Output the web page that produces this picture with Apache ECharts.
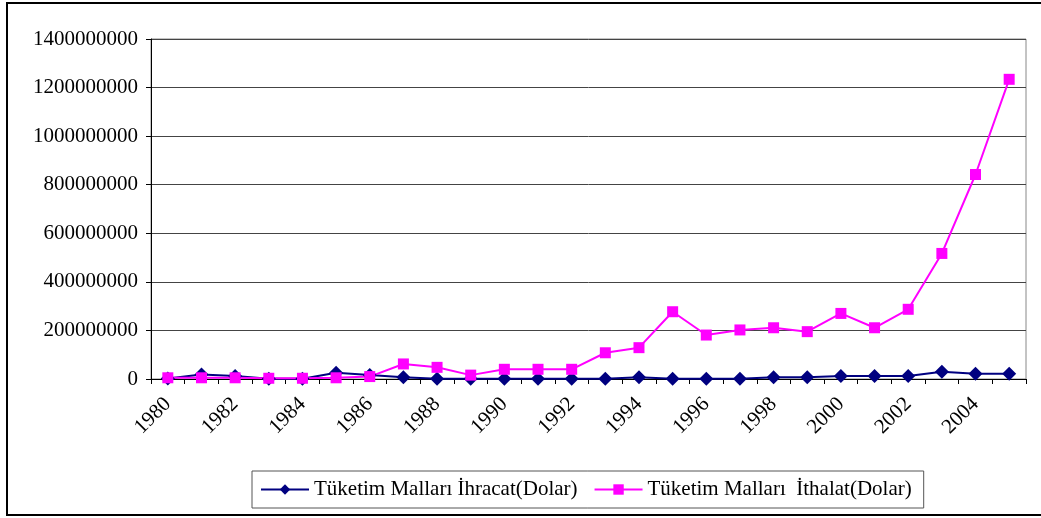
<!DOCTYPE html>
<html>
<head>
<meta charset="utf-8">
<script src="https://cdn.jsdelivr.net/npm/echarts@6/dist/echarts.min.js"></script>
<style>
  html, body { margin: 0; padding: 0; background: #fff; }
  #chart { width: 1041px; height: 518px; }
</style>
</head>
<body>
<div id="chart"></div>
<script>
// yıllar
const years = ["1980","1981","1982","1983","1984","1985","1986","1987","1988","1989",
  "1990","1991","1992","1993","1994","1995","1996","1997","1998","1999",
  "2000","2001","2002","2003","2004","2005"];

// ihracat (dolar)
const exportValues = [2000000, 19000000, 12000000, 1000000, 1000000, 26000000, 16000000, 7000000, 1000000, 1000000,
  1000000, 1000000, 1000000, 1000000, 7000000, 1000000, 1000000, 1000000, 7000000, 7000000,
  12000000, 12000000, 12000000, 30000000, 22000000, 22000000];

// ithalat (dolar)
const importValues = [5000000, 5000000, 5000000, 3000000, 3000000, 5000000, 10000000, 62000000, 48000000, 16000000,
  40000000, 40000000, 40000000, 108000000, 129000000, 277000000, 181000000, 202000000, 211000000, 195000000,
  270000000, 211000000, 287000000, 517000000, 842000000, 1234000000];

const seriesNames = ["Tüketim Malları İhracat(Dolar)", "Tüketim Malları  İthalat(Dolar)"];

const serif = "'Liberation Serif', 'DejaVu Serif', serif";

const chart = echarts.init(document.getElementById("chart"));

const options = {
  animation: false,
  textStyle: { fontFamily: serif },
  graphic: [
    {
      type: "rect",
      shape: { x: 7, y: 3, width: 1040, height: 512 },
      style: { fill: "none", stroke: "#000", lineWidth: 2 },
      silent: true,
    },
  ],
  grid: {
    left: 151,
    right: 15,
    top: 39,
    bottom: 139,
    show: true,
    borderColor: "#888",
    borderWidth: 1,
    backgroundColor: "transparent",
  },
  legend: {
    left: 252,
    top: 471,
    width: 720,
    height: 38,
    itemWidth: 48,
    itemHeight: 13,
    itemGap: 16,
    padding: [8, 12, 8, 8],
    borderColor: "#555",
    borderWidth: 1,
    data: seriesNames,
    textStyle: { fontFamily: serif, fontSize: 21, color: "#000" },
  },
  xAxis: {
    type: "category",
    data: years,
    boundaryGap: true,
    axisLine: { lineStyle: { color: "#000", width: 1 } },
    axisTick: { show: true, interval: 0, length: 5, inside: false, lineStyle: { color: "#000" } },
    axisLabel: {
      interval: 1,
      rotate: 45,
      fontFamily: serif,
      fontSize: 21,
      color: "#000",
      margin: 22,
    },
    splitLine: { show: false },
  },
  yAxis: {
    type: "value",
    min: 0,
    max: 1400000000,
    interval: 200000000,
    axisLine: { show: true, lineStyle: { color: "#000", width: 1 } },
    axisTick: { show: true, length: 5, lineStyle: { color: "#000" } },
    axisLabel: {
      fontFamily: serif,
      fontSize: 21,
      color: "#000",
      margin: 13,
      formatter: (v) => String(v),
    },
    splitLine: { lineStyle: { color: "#444", width: 1 } },
  },
  series: [
    {
      name: seriesNames[0],
      type: "line",
      data: exportValues,
      symbol: "diamond",
      symbolSize: 14,
      lineStyle: { color: "#000080", width: 2 },
      itemStyle: { color: "#000080" },
    },
    {
      name: seriesNames[1],
      type: "line",
      data: importValues,
      symbol: "rect",
      symbolSize: 11,
      lineStyle: { color: "#ff00ff", width: 2 },
      itemStyle: { color: "#ff00ff" },
    },
  ],
};

chart.setOption(options);

window.addEventListener("resize", () => {
  chart.resize();
});
</script>
</body>
</html>
